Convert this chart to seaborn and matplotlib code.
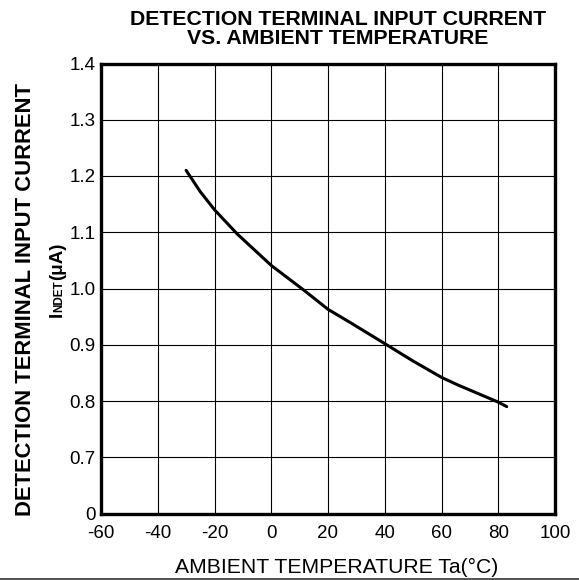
import numpy as np
import pandas as pd
import seaborn as sns
import matplotlib.pyplot as plt
from matplotlib.lines import Line2D

# values
temp_c = [-30, -25, -20, -12, 0, 11.5, 20, 28, 40, 50, 60, 66, 80, 83]
current_ua = [1.210, 1.172, 1.140, 1.097, 1.041, 0.997, 0.963, 0.939, 0.902, 0.871, 0.842, 0.828, 0.798, 0.790]

x_ticks = [-60, -40, -20, 0, 20, 40, 60, 80, 100]
y_ticks = [0.6, 0.7, 0.8, 0.9, 1.0, 1.1, 1.2, 1.3, 1.4]
y_tick_labels = ["0", "0.7", "0.8", "0.9", "1.0", "1.1", "1.2", "1.3", "1.4"]

sns.set_style("white")
plt.rcParams['font.family'] = ['Liberation Sans', 'DejaVu Sans']
plt.rcParams['text.color'] = 'black'
plt.rcParams['xtick.color'] = 'black'
plt.rcParams['ytick.color'] = 'black'

W, H = 579, 580
fig = plt.figure(figsize=(W / 100, H / 100), dpi=100)
ax = fig.add_axes([101 / W, 1 - 513.5 / H, 454 / W, 450 / H])

df = pd.DataFrame({"temp": temp_c, "current": current_ua})
sns.lineplot(data=df, x="temp", y="current", ax=ax, color="black", lw=2.2)

ax.set_xlim(-60, 100)
ax.set_ylim(0.6, 1.4)
ax.set_xticks(x_ticks)
ax.set_xticklabels([str(t) for t in x_ticks])
ax.set_yticks(y_ticks)
ax.set_yticklabels(y_tick_labels)
ax.grid(True, color="black", lw=0.8)
ax.tick_params(axis="both", length=0, labelsize=13.5, labelcolor="black")
ax.tick_params(axis="y", pad=4)
ax.tick_params(axis="x", pad=8)
ax.set_xlabel("")
ax.set_ylabel("")
for s in ax.spines.values():
    s.set_color("black")
    s.set_linewidth(2.4)

# titles and labels
fig.text(338 / W, 1 - 10 / H, "DETECTION TERMINAL INPUT CURRENT\nVS. AMBIENT TEMPERATURE",
         ha="center", va="top", fontweight="bold", fontsize=15.3, linespacing=1.0)
fig.text(337 / W, 1 - 573 / H, "AMBIENT TEMPERATURE Ta(°C)", ha="center", va="baseline", fontsize=15.2)
fig.text(26 / W, 1 - 299 / H, "DETECTION TERMINAL INPUT CURRENT", rotation=90,
         ha="center", va="center", fontweight="bold", fontsize=15.8)

# second y-label line: I + small NDET + (μA), baseline aligned
fig.canvas.draw()
renderer = fig.canvas.get_renderer()
y_px = 317
for txt, size in [("I", 13.5), ("NDET", 8.5), ("(μA)", 13.5)]:
    t = fig.text(62 / W, 1 - y_px / H, txt, rotation=90, rotation_mode="anchor",
                 ha="left", va="baseline", fontweight="bold", fontsize=size)
    ext = t.get_window_extent(renderer=renderer)
    y_px -= ext.height

# rule at the bottom of the picture
fig.add_artist(Line2D([0, 1], [1.5 / H, 1.5 / H], transform=fig.transFigure, color="#333333", lw=1.2))

fig.savefig("out.png", dpi=100)
